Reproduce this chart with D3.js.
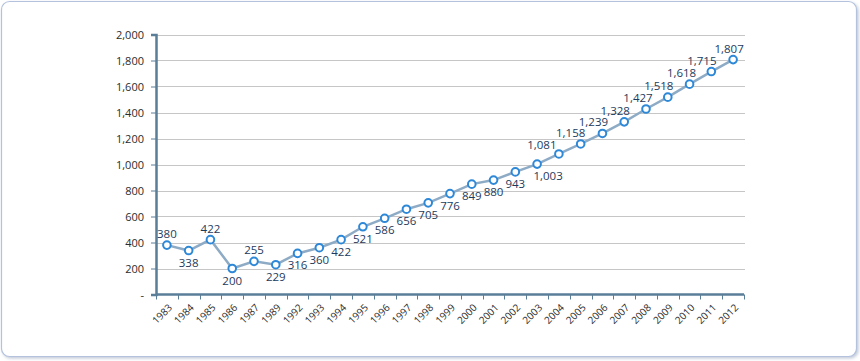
<!DOCTYPE html>
<html><head><meta charset="utf-8">
<script src="https://cdn.jsdelivr.net/npm/d3@7"></script>
<style>
html,body{margin:0;padding:0;background:#fff;}
svg{display:block;}
</style></head>
<body><svg id="chart" width="860" height="361"></svg>
<script>
const years = ["1983","1984","1985","1986","1987","1989","1992","1993","1994","1995","1996","1997","1998","1999","2000","2001","2002","2003","2004","2005","2006","2007","2008","2009","2010","2011","2012"];
const values = [380,338,422,200,255,229,316,360,422,521,586,656,705,776,849,880,943,1003,1081,1158,1239,1328,1427,1518,1618,1715,1807];
const yTicks = [0,200,400,600,800,1000,1200,1400,1600,1800,2000];
const labelAbove = ["1983","1985","1987","2004","2005","2006","2007","2008","2009","2010","2011","2012"];

const labelShift = {"2003":11,"2004":-17,"2005":-10,"2006":-9,"2007":-9,"2008":-8,"2009":-9,"2010":-8,"2011":-9.5,"2012":-4};

(function(){
const svg = d3.select("#chart");
const defs = svg.append("defs");
const f = defs.append("filter").attr("id","sh").attr("x","-5%").attr("y","-5%").attr("width","110%").attr("height","115%");
f.append("feDropShadow").attr("dx",1.5).attr("dy",1.5).attr("stdDeviation",1.5).attr("flood-color","#9aa6c0").attr("flood-opacity",0.6);

svg.append("rect").attr("x",1.5).attr("y",1.5).attr("width",855).attr("height",355).attr("rx",8)
  .attr("fill","#fff").attr("stroke","#b4c2de").attr("stroke-width",1.2).attr("filter","url(#sh)");

const pl=156, pr=744, pt=34.5, pb=294.5;
const x = d3.scaleBand().domain(years).range([pl,pr]);
const y = d3.scaleLinear().domain([0,2000]).range([pb,pt]);

svg.append("g").selectAll("line").data(yTicks.filter(d=>d>0)).join("line")
  .attr("x1",pl).attr("x2",pr+1).attr("y1",d=>Math.round(y(d))+0.5).attr("y2",d=>Math.round(y(d))+0.5)
  .attr("stroke","#c6c6c6").attr("stroke-width",1);

const yAxis = d3.axisLeft(y).tickValues(yTicks).tickSize(5).tickPadding(7)
  .tickFormat(d=> d===0 ? "-" : d3.format(",")(d));
const gy = svg.append("g").attr("transform",`translate(${pl},0)`).call(yAxis);
gy.select(".domain").attr("stroke","#5a7e98").attr("stroke-width",2.5);
gy.selectAll(".tick line").attr("stroke","#5a7e98").attr("stroke-width",1);
gy.selectAll("text").attr("font-family","'Open Sans', sans-serif").attr("font-size",11).attr("fill","#2b2b2b");

const gx = svg.append("g").attr("transform",`translate(0,${pb})`);
gx.append("line").attr("x1",pl).attr("x2",pr).attr("y1",0).attr("y2",0).attr("stroke","#5a7e98").attr("stroke-width",2.5);
const bounds = years.map(d=>x(d)).concat([pr]);
gx.selectAll("line.tk").data(bounds).join("line").attr("class","tk")
  .attr("x1",d=>Math.round(d)+0.5).attr("x2",d=>Math.round(d)+0.5).attr("y1",0).attr("y2",5)
  .attr("stroke","#5a7e98").attr("stroke-width",1);
gx.selectAll("text").data(years).join("text")
  .attr("transform",d=>`translate(${x(d)+x.bandwidth()/2+3},${11}) rotate(-45)`)
  .attr("text-anchor","end").attr("dominant-baseline","central")
  .attr("font-family","'Open Sans', sans-serif").attr("font-size",10).attr("fill","#2b2b2b")
  .text(d=>d);

const pts = years.map((d,i)=>({year:d,value:values[i]}));
const cx = d=>x(d.year)+x.bandwidth()/2;

svg.append("path").datum(pts)
  .attr("d",d3.line().x(cx).y(d=>y(d.value)))
  .attr("fill","none").attr("stroke","#8eabc6").attr("stroke-width",2.5);

svg.append("g").selectAll("circle").data(pts).join("circle")
  .attr("cx",cx).attr("cy",d=>y(d.value)).attr("r",3.8)
  .attr("fill","#fff").attr("stroke","#2e88d8").attr("stroke-width",2);

svg.append("g").selectAll("text").data(pts).join("text")
  .attr("x",d=>cx(d)+(labelShift[d.year]||0))
  .attr("y",d=>y(d.value)+(labelAbove.includes(d.year)? (d.year==="2004"?-9:-11.5) : 11.5))
  .attr("text-anchor","middle").attr("dominant-baseline","central")
  .attr("font-family","'Open Sans', sans-serif").attr("font-size",11.5).attr("fill","#1d3a5c")
  .text(d=>d3.format(",")(d.value));
})();
</script>
</body></html>
